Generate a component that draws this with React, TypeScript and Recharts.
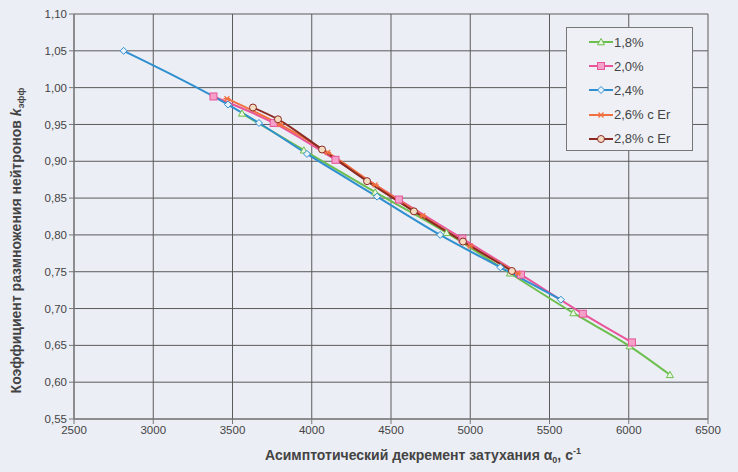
import React from "react";
import { LineChart, Line, XAxis, YAxis, CartesianGrid } from "recharts";

// 1,8% — green, triangles
const x18 = [3560, 3950, 4400, 4850, 5250, 5650, 6005, 6260];
const y18 = [0.965, 0.915, 0.858, 0.803, 0.748, 0.694, 0.649, 0.610];
// 2,0% — pink, squares
const x20 = [3380, 3760, 4150, 4550, 4950, 5320, 5710, 6020];
const y20 = [0.988, 0.952, 0.902, 0.848, 0.795, 0.746, 0.693, 0.654];
// 2,4% — blue, diamonds
const x24 = [2813, 3472, 3667, 3970, 4412, 4810, 5190, 5572];
const y24 = [1.050, 0.977, 0.952, 0.910, 0.852, 0.800, 0.756, 0.712];
// 2,6% c Er — orange, stars
const x26 = [3465, 3800, 4100, 4400, 4700, 5000, 5300];
const y26 = [0.985, 0.950, 0.912, 0.868, 0.826, 0.785, 0.748];
// 2,8% c Er — brown, circles
const x28 = [3629, 3787, 4065, 4349, 4645, 4954, 5263];
const y28 = [0.973, 0.957, 0.916, 0.873, 0.832, 0.791, 0.751];

const xTicks = [2500, 3000, 3500, 4000, 4500, 5000, 5500, 6000, 6500];
const yTicks = [0.55, 0.6, 0.65, 0.7, 0.75, 0.8, 0.85, 0.9, 0.95, 1.0, 1.05, 1.1];

const zip = (xs: number[], ys: number[]) => xs.map((x, i) => ({ x, y: ys[i] }));

const series = [
  { name: "1,8%", color: "#6cbf4f", shape: "triangle", data: zip(x18, y18) },
  { name: "2,0%", color: "#e8559b", shape: "square", data: zip(x20, y20) },
  { name: "2,4%", color: "#2f8fcf", shape: "diamond", data: zip(x24, y24) },
  { name: "2,6% c Er", color: "#f2703f", shape: "star", data: zip(x26, y26) },
  { name: "2,8% c Er", color: "#8a2a22", shape: "circle", data: zip(x28, y28) },
];

const font = "Liberation Sans, Arial, sans-serif";

const Marker = ({ cx, cy, shape, color }: any) => {
  if (cx == null || cy == null) return null;
  const r = 3.5;
  if (shape === "triangle")
    return <polygon points={`${cx},${cy - r} ${cx + r},${cy + r * 0.8} ${cx - r},${cy + r * 0.8}`} fill="#e8f5e0" stroke={color} strokeWidth={1} />;
  if (shape === "square")
    return <rect x={cx - r} y={cy - r} width={2 * r} height={2 * r} fill="#f4a0c8" stroke={color} strokeWidth={1} />;
  if (shape === "diamond")
    return <polygon points={`${cx},${cy - r} ${cx + r},${cy} ${cx},${cy + r} ${cx - r},${cy}`} fill="#e8f2fa" stroke={color} strokeWidth={1} />;
  if (shape === "star")
    return (
      <g stroke={color} strokeWidth={1.3}>
        <line x1={cx - r} y1={cy} x2={cx + r} y2={cy} />
        <line x1={cx - 2.5} y1={cy - 2.5} x2={cx + 2.5} y2={cy + 2.5} />
        <line x1={cx - 2.5} y1={cy + 2.5} x2={cx + 2.5} y2={cy - 2.5} />
      </g>
    );
  return <circle cx={cx} cy={cy} r={r} fill="#f5dcc0" stroke={color} strokeWidth={1} />;
};

const LegendBox = () => (
  <div
    style={{
      position: "absolute",
      left: 566,
      top: 27,
      width: 127,
      height: 124,
      border: "1px solid #777",
      background: "#eef0f6",
      boxSizing: "border-box",
      paddingTop: 2,
      paddingLeft: 22,
    }}
  >
    {series.map((s) => (
      <div key={s.name} style={{ display: "flex", alignItems: "center", height: 24.2 }}>
        <svg width={24} height={10}>
          <line x1={0} y1={5} x2={24} y2={5} stroke={s.color} strokeWidth={2} />
          <Marker cx={12} cy={5} shape={s.shape} color={s.color} />
        </svg>
        <span style={{ fontFamily: font, fontSize: 13, color: "#444", marginLeft: 1 }}>{s.name}</span>
      </div>
    ))}
  </div>
);

const YTitle = (props: any) => {
  const vb = props.viewBox || {};
  const cx = 21;
  const cy = vb.y + vb.height / 2 + 24;
  return (
    <text
      x={cx}
      y={cy}
      transform={`rotate(-90 ${cx} ${cy})`}
      textAnchor="middle"
      fontFamily={font}
      fontSize={14}
      fontWeight="bold"
      fill="#444"
    >
      Коэффициент размножения нейтронов <tspan fontStyle="italic">k</tspan>
      <tspan fontSize={9} dy={3}>эфф</tspan>
    </text>
  );
};

const XTitle = (props: any) => {
  const vb = props.viewBox || {};
  const cx = vb.x + vb.width / 2 + 32;
  return (
    <text x={cx} y={460} textAnchor="middle" fontFamily={font} fontSize={14} fontWeight="bold" fill="#444">
      Асимптотический декремент затухания α<tspan fontSize={9} dy={3}>0</tspan>
      <tspan dy={-3}>, с</tspan>
      <tspan fontSize={9} dy={-6}>-1</tspan>
    </text>
  );
};

const App = () => {
  return (
    <div style={{ position: "absolute", left: 0, top: 0, width: 738, height: 472, background: "#eceef5" }}>
      <LineChart width={738} height={472} margin={{ top: 14, right: 30, left: 0, bottom: 0 }}>
        <CartesianGrid stroke="#5a5a5a" strokeWidth={1} />
        <XAxis
          type="number"
          dataKey="x"
          domain={[2500, 6500]}
          ticks={xTicks}
          allowDuplicatedCategory={false}
          height={53}
          stroke="#777"
          tickSize={5}
          tick={{ fill: "#444", fontSize: 11.5, fontFamily: font }}
          label={{ content: <XTitle /> } as any}
        />
        <YAxis
          type="number"
          dataKey="y"
          domain={[0.55, 1.1]}
          ticks={yTicks}
          width={74}
          stroke="#777"
          tickSize={5}
          tickFormatter={(v: number) => v.toFixed(2).replace(".", ",")}
          tick={{ fill: "#444", fontSize: 11.5, fontFamily: font }}
          label={{ content: <YTitle /> } as any}
        />
        {series.map((s) => (
          <Line
            key={s.name}
            name={s.name}
            data={s.data}
            dataKey="y"
            type="monotone"
            stroke={s.color}
            strokeWidth={2}
            isAnimationActive={false}
            dot={(p: any) => <Marker key={`${s.name}-${p.index}`} cx={p.cx} cy={p.cy} shape={s.shape} color={s.color} />}
            activeDot={false}
          />
        ))}
      </LineChart>
      <LegendBox />
    </div>
  );
};

export default App;
